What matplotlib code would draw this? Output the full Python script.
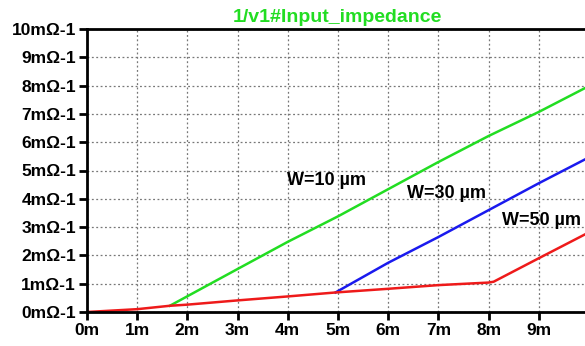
import numpy as np
import matplotlib.pyplot as plt

plt.rcParams['font.family'] = ['Liberation Sans', 'DejaVu Sans']

# curves (x in m, y in mOhm^-1)
w10_x = [1.65, 3.0, 4.0, 5.0, 6.0, 7.0, 8.0, 9.0, 9.95]
w10_y = [0.22, 1.52, 2.48, 3.38, 4.34, 5.3, 6.22, 7.07, 7.94]
w30_x = [4.95, 6.0, 7.0, 8.0, 9.0, 9.95]
w30_y = [0.69, 1.74, 2.65, 3.6, 4.55, 5.42]
w50_x = [0.0, 1.0, 1.65, 2.0, 3.0, 4.0, 4.95, 6.0, 7.0, 8.0, 8.1, 9.0, 9.95]
w50_y = [0.0, 0.1, 0.22, 0.26, 0.41, 0.55, 0.69, 0.82, 0.95, 1.04, 1.07, 1.9, 2.77]

xticks = np.arange(0, 10)
xlabels = ['%dm' % v for v in xticks]
yticks = np.arange(0, 11)
ylabels = ['%dm\u03a9-1' % v for v in yticks]

fig = plt.figure(figsize=(5.85, 3.46), dpi=100)
ax = fig.add_axes([87 / 585, 34 / 346, 498 / 585, 283 / 346])

ax.plot(w10_x, w10_y, color='#22dd22', linewidth=1.8)
ax.plot(w30_x, w30_y, color='#1a1aee', linewidth=1.8)
ax.plot(w50_x, w50_y, color='#ee1a1a', linewidth=1.8)

ax.set_xlim(0, 9.92)
ax.set_ylim(0, 10)
ax.set_xticks(xticks)
ax.set_xticklabels(xlabels, fontsize=12.5, fontweight='bold')
ax.set_yticks(yticks)
ax.set_yticklabels(ylabels, fontsize=12.5, fontweight='bold')
ax.tick_params(axis='both', direction='out', length=6, width=2, pad=2)
ax.grid(True, linestyle=(0, (1.5, 2)), color='#777777', linewidth=0.9)

for s in ['left', 'bottom', 'top']:
    ax.spines[s].set_linewidth(2)
ax.spines['right'].set_visible(False)

ax.text(3.98, 4.63, 'W=10 \u00b5m', fontsize=13, fontweight='bold', va='center')
ax.text(6.37, 4.2, 'W=30 \u00b5m', fontsize=13, fontweight='bold', va='center')
ax.text(8.27, 3.25, 'W=50 \u00b5m', fontsize=13, fontweight='bold', va='center')

fig.text(337 / 585, 1 - 17 / 346, '1/v1#Input_impedance', color='#22dd22',
         fontsize=14, fontweight='bold', ha='center', va='center')

fig.savefig('out.png', dpi=100)
